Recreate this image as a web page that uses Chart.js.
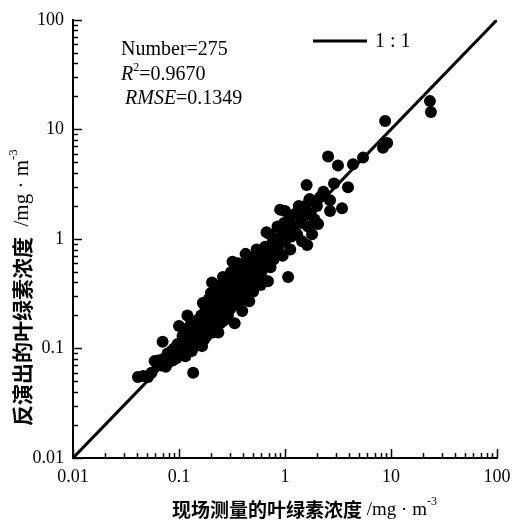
<!DOCTYPE html>
<html>
<head>
<meta charset="utf-8">
<script src="https://cdn.jsdelivr.net/npm/chart.js@4"></script>
<style>
  html, body { margin: 0; padding: 0; background: #fff; }
</style>
</head>
<body>
<canvas id="chart" width="521" height="526"></canvas>
<script>
const measuredChl = [
  0.041, 0.046, 0.051, 0.055, 0.059, 0.062, 0.065, 0.068, 0.070, 0.072,
  0.075, 0.078, 0.080, 0.082, 0.085, 0.088, 0.090, 0.092, 0.095, 0.097,
  0.100, 0.100, 0.105, 0.108, 0.110, 0.112, 0.115, 0.118, 0.120, 0.122,
  0.125, 0.128, 0.130, 0.132, 0.135, 0.136, 0.138, 0.140, 0.142, 0.145,
  0.148, 0.150, 0.155, 0.160, 0.160, 0.162, 0.165, 0.165, 0.168, 0.170,
  0.172, 0.175, 0.178, 0.180, 0.182, 0.185, 0.188, 0.190, 0.192, 0.195,
  0.198, 0.200, 0.200, 0.205, 0.205, 0.208, 0.210, 0.212, 0.215, 0.218,
  0.220, 0.225, 0.230, 0.232, 0.235, 0.238, 0.240, 0.245, 0.248, 0.250,
  0.255, 0.258, 0.260, 0.262, 0.265, 0.270, 0.272, 0.275, 0.280, 0.285,
  0.290, 0.292, 0.295, 0.300, 0.305, 0.310, 0.312, 0.318, 0.320, 0.322,
  0.330, 0.335, 0.340, 0.345, 0.350, 0.360, 0.360, 0.370, 0.375, 0.380,
  0.390, 0.395, 0.400, 0.410, 0.415, 0.420, 0.425, 0.430, 0.440, 0.450,
  0.460, 0.465, 0.470, 0.480, 0.490, 0.500, 0.510, 0.520, 0.530, 0.540,
  0.550, 0.560, 0.580, 0.590, 0.600, 0.620, 0.630, 0.650, 0.660, 0.670,
  0.690, 0.700, 0.720, 0.730, 0.750, 0.780, 0.800, 0.820, 0.850, 0.870,
  0.900, 0.920, 0.950, 0.980, 1.000, 1.000, 1.050, 1.070, 1.100, 1.120,
  1.150, 1.200, 1.250, 1.300, 1.350, 1.400, 1.450, 1.500, 1.550, 1.600,
  1.620, 1.650, 1.700, 1.720, 1.750, 1.800, 1.900, 2.000, 2.050, 2.140,
  2.300, 2.550, 2.660, 2.660, 2.900, 3.160, 3.450, 3.930, 4.380, 5.450,
  8.400, 8.800, 9.200, 23.3, 23.8
];
const retrievedChl = [
  0.055, 0.056, 0.055, 0.060, 0.077, 0.072, 0.078, 0.070, 0.115, 0.080,
  0.068, 0.090, 0.075, 0.085, 0.095, 0.078, 0.100, 0.088, 0.082, 0.110,
  0.095, 0.160, 0.090, 0.130, 0.105, 0.150, 0.085, 0.120, 0.200, 0.100,
  0.140, 0.110, 0.170, 0.095, 0.130, 0.060, 0.120, 0.160, 0.105, 0.140,
  0.180, 0.120, 0.130, 0.150, 0.110, 0.200, 0.170, 0.105, 0.260, 0.140,
  0.120, 0.190, 0.230, 0.160, 0.130, 0.210, 0.170, 0.280, 0.145, 0.190,
  0.240, 0.160, 0.320, 0.400, 0.200, 0.140, 0.260, 0.180, 0.300, 0.220,
  0.150, 0.250, 0.190, 0.340, 0.140, 0.220, 0.280, 0.170, 0.380, 0.240,
  0.200, 0.310, 0.450, 0.270, 0.180, 0.220, 0.350, 0.290, 0.250, 0.420,
  0.200, 0.330, 0.270, 0.380, 0.230, 0.500, 0.300, 0.260, 0.620, 0.400,
  0.340, 0.170, 0.450, 0.290, 0.360, 0.600, 0.250, 0.420, 0.300, 0.520,
  0.350, 0.220, 0.450, 0.280, 0.600, 0.380, 0.730, 0.320, 0.500, 0.420,
  0.270, 0.620, 0.360, 0.550, 0.450, 0.330, 0.700, 0.500, 0.400, 0.800,
  0.600, 0.450, 0.550, 0.380, 0.500, 0.700, 0.420, 0.850, 0.600, 1.150,
  0.410, 0.750, 1.100, 0.550, 0.900, 0.650, 1.000, 0.750, 1.300, 0.850,
  1.850, 1.100, 0.700, 1.400, 1.800, 0.950, 1.200, 0.450, 1.500, 0.800,
  1.050, 1.300, 1.700, 1.100, 2.000, 1.400, 0.950, 1.600, 2.000, 3.100,
  0.880, 1.300, 2.300, 2.300, 1.700, 1.100, 1.500, 2.000, 1.370, 2.400,
  2.700, 5.640, 2.250, 1.800, 3.200, 4.670, 1.900, 2.960, 4.800, 5.520,
  6.800, 11.9, 7.500, 18.1, 14.4
];
const oneToOneX = [0.01, 100];
const oneToOneY = [0.01, 100];
const tickValues = [0.01, 0.1, 1, 10, 100];
const tickLabels = ['0.01', '0.1', '1', '10', '100'];

const serif = '"Liberation Serif", "Times New Roman", serif';
const cjk = '"Noto Sans CJK SC", sans-serif';

Chart.defaults.font.family = serif;
Chart.defaults.font.size = 18;
Chart.defaults.color = '#000';

const points = measuredChl.map((x, i) => ({ x: x, y: retrievedChl[i] }));
const linePts = oneToOneX.map((x, i) => ({ x: x, y: oneToOneY[i] }));

// draws a run of text pieces side by side (used for superscripts)
function drawRun(ctx, x, y, parts) {
  parts.forEach(p => {
    ctx.font = p.font;
    ctx.fillText(p.text, x, y + (p.dy || 0));
    x += ctx.measureText(p.text).width;
  });
}

const decorations = {
  id: 'decorations',
  afterDraw(chart) {
    const ctx = chart.ctx;
    const xs = chart.scales.x, ys = chart.scales.y;
    const { left, bottom } = chart.chartArea;
    ctx.save();
    ctx.strokeStyle = '#000';
    ctx.lineWidth = 1.5;
    // inward ticks, major at decades and minor at 2..9
    [0.01, 0.1, 1, 10].forEach(d => {
      for (let m = 1; m <= 9; m++) {
        const v = d * m;
        const len = m === 1 ? 9 : 5;
        const px = Math.round(xs.getPixelForValue(v)) + 0.5;
        ctx.beginPath(); ctx.moveTo(px, bottom); ctx.lineTo(px, bottom - len); ctx.stroke();
        const py = Math.round(ys.getPixelForValue(v)) + 0.5;
        ctx.beginPath(); ctx.moveTo(left, py); ctx.lineTo(left + len, py); ctx.stroke();
      }
    });
    const px100 = Math.round(xs.getPixelForValue(100)) + 0.5;
    ctx.beginPath(); ctx.moveTo(px100, bottom); ctx.lineTo(px100, bottom - 9); ctx.stroke();
    const py100 = Math.round(ys.getPixelForValue(100)) + 0.5;
    ctx.beginPath(); ctx.moveTo(left, py100); ctx.lineTo(left + 9, py100); ctx.stroke();

    // statistics text
    ctx.fillStyle = '#000';
    ctx.textBaseline = 'middle';
    ctx.textAlign = 'left';
    const f = '20px ' + serif, fi = 'italic 20px ' + serif, fs = '12px ' + serif;
    drawRun(ctx, 121, 50, [{ text: 'Number=275', font: f }]);
    drawRun(ctx, 121, 75, [
      { text: 'R', font: fi }, { text: '2', font: fs, dy: -7 }, { text: '=0.9670', font: f }
    ]);
    drawRun(ctx, 125, 99, [{ text: 'RMSE', font: fi }, { text: '=0.1349', font: f }]);

    // legend
    ctx.lineWidth = 3;
    ctx.beginPath(); ctx.moveTo(313, 41); ctx.lineTo(367, 41); ctx.stroke();
    drawRun(ctx, 375, 42, [{ text: '1 : 1', font: f }]);

    // axis titles
    drawRun(ctx, 172, 510, [
      { text: '现场测量的叶绿素浓度', font: 'bold 19px ' + cjk },
      { text: ' /mg · m', font: '19px ' + serif },
      { text: '-3', font: '12px ' + serif, dy: -8 }
    ]);
    ctx.translate(22, 426);
    ctx.rotate(-Math.PI / 2);
    drawRun(ctx, 0, 0, [
      { text: '反演出的叶绿素浓度', font: 'bold 21px ' + cjk },
      { text: '  /mg · m', font: '21px ' + serif },
      { text: '-3', font: '13px ' + serif, dy: -8 }
    ]);
    ctx.restore();
  }
};

new Chart(document.getElementById('chart'), {
  type: 'scatter',
  data: {
    datasets: [
      {
        type: 'line',
        label: '1:1',
        data: linePts,
        borderColor: '#000',
        borderWidth: 3,
        pointRadius: 0,
        fill: false
      },
      {
        label: 'samples',
        data: points,
        backgroundColor: '#000',
        borderWidth: 0,
        pointRadius: 6,
        pointHoverRadius: 6
      }
    ]
  },
  options: {
    responsive: false,
    animation: false,
    layout: { padding: { top: 16, right: 24, left: 0, bottom: 0 } },
    plugins: { legend: { display: false }, tooltip: { enabled: false } },
    scales: {
      x: {
        type: 'logarithmic',
        min: 0.01,
        max: 100,
        afterBuildTicks: s => { s.ticks = tickValues.map(v => ({ value: v })); },
        afterFit: s => { s.height = 68; },
        ticks: {
          padding: 8,
          maxRotation: 0,
          autoSkip: false,
          callback: v => tickLabels[tickValues.indexOf(v)]
        },
        grid: { display: false, drawTicks: false },
        border: { display: true, color: '#000', width: 2 }
      },
      y: {
        type: 'logarithmic',
        min: 0.01,
        max: 100,
        afterBuildTicks: s => { s.ticks = tickValues.map(v => ({ value: v })); },
        afterFit: s => { s.width = 73; },
        ticks: {
          padding: 9,
          autoSkip: false,
          callback: v => tickLabels[tickValues.indexOf(v)]
        },
        grid: { display: false, drawTicks: false },
        border: { display: true, color: '#000', width: 2 }
      }
    }
  },
  plugins: [decorations]
});
</script>
</body>
</html>
